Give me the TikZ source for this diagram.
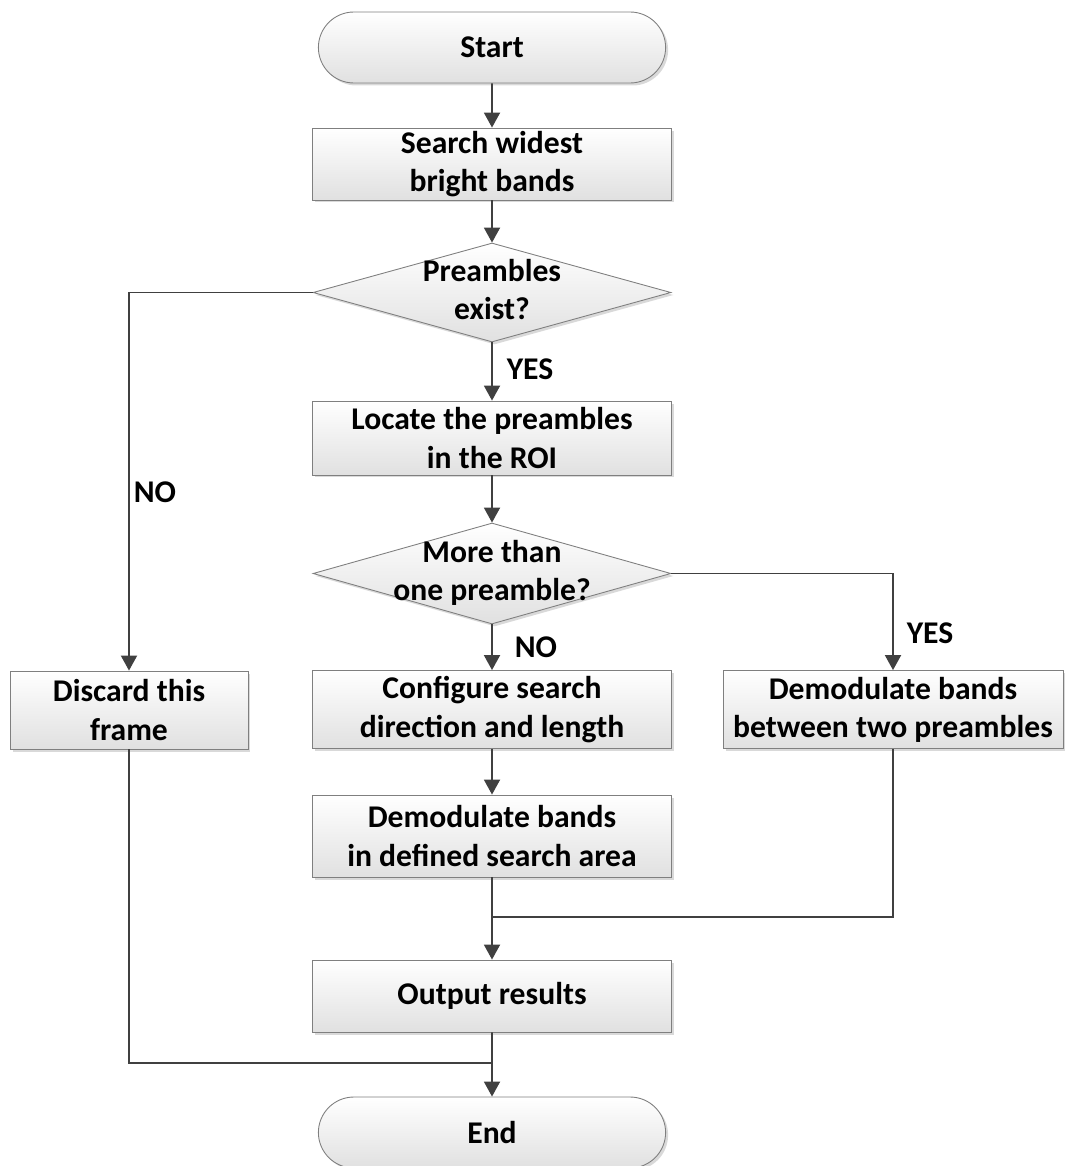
\documentclass[tikz,border=0pt]{standalone}
\usepackage{fontspec}
\setmainfont{Carlito}
\usetikzlibrary{shapes.geometric, shapes.misc, arrows.meta, shadows}
\definecolor{linegray}{HTML}{404040}
\definecolor{bordergray}{HTML}{7F7F7F}
\newcommand{\decisiontext}[1]{\smash{\raisebox{-0.25em}{\begin{tabular}{@{}c@{}}#1\end{tabular}}}}

\begin{document}
\begin{tikzpicture}[x=0.02cm, y=-0.02cm,
		font=\fontsize{18}{21.7}\selectfont\bfseries,
		every node/.style={align=center},
		base/.style={draw=bordergray, line width=0.5pt, top color=white, bottom color=black!12,
			drop shadow={shadow xshift=0.05cm, shadow yshift=-0.05cm, fill=black!15, opacity=1}},
		terminal/.style={base, rounded rectangle, minimum width=7.18cm, minimum height=1.42cm},
		process/.style={base, rectangle, minimum width=7.18cm, inner sep=0pt},
		decision/.style={base, diamond, aspect=3.6, minimum width=7.16cm, inner sep=0pt},
		flow/.style={draw=linegray, line width=1.1pt, -{Triangle[width=0.32cm, length=0.3cm]}},
		link/.style={draw=linegray, line width=1.1pt}
		]
		\useasboundingbox (0,0) rectangle (1068,1166);
		\node[terminal] (start) at (492,47.5) {Start};
		\node[process, minimum height=1.44cm] (search) at (492,164) {Search widest\\bright bands};
		\node[decision, minimum height=1.98cm] (exist) at (492,292.5) {\decisiontext{Preambles\\exist?}};
		\node[process, minimum height=1.48cm] (locate) at (492,438) {Locate the preambles\\in the ROI};
		\node[decision, minimum height=2.02cm] (more) at (492,573.5) {\decisiontext{More than\\one preamble?}};
		\node[process, minimum height=1.56cm] (config) at (492,709.5) {Configure search\\direction and length};
		\node[process, minimum height=1.56cm, minimum width=6.8cm] (between) at (893,709.5) {Demodulate bands\\between two preambles};
		\node[process, minimum height=1.56cm, minimum width=4.76cm] (discard) at (129,710) {Discard this\\frame};
		\node[process, minimum height=1.64cm] (area) at (492,836) {Demodulate bands\\in defined search area};
		\node[process, minimum height=1.44cm] (output) at (492,996) {Output results};
		\node[terminal] (end) at (492,1132.5) {End};
		\node (yes1) at (530,369) {YES};
		\node (no1) at (155,492) {NO};
		\node (no2) at (536,647) {NO};
		\node (yes2) at (930,633) {YES};
		\coordinate (merge) at (492,917);
		\coordinate (gather) at (492,1063);
		\draw[flow] (start) -- (search);
		\draw[flow] (search) -- (exist);
		\draw[flow] (exist) -- (locate);
		\draw[flow] (locate) -- (more);
		\draw[flow] (more) -- (config);
		\draw[flow] (exist.west) -| (discard);
		\draw[flow] (more.east) -| (between);
		\draw[flow] (config) -- (area);
		\draw[flow] (area) -- (output);
		\draw[link] (between) |- (merge);
		\draw[flow] (output) -- (end);
		\draw[link] (discard) |- (gather);
	\end{tikzpicture}
\end{document}
